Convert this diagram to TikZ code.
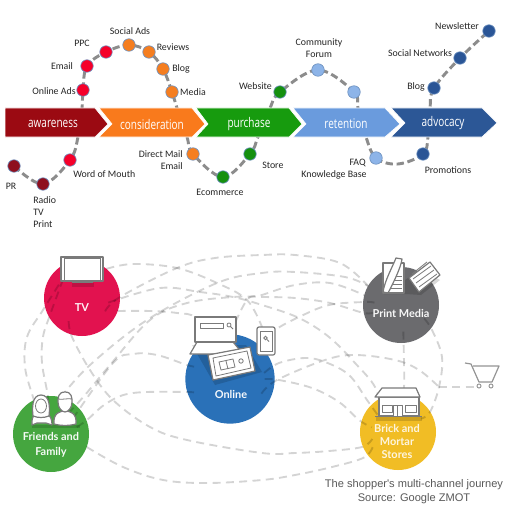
\documentclass[tikz,border=0pt]{standalone}
\usepackage{fontspec}
\setmainfont{Carlito}
\newfontfamily\bandfont{Open Sans}
\newfontfamily\roundfont{Lato}
\newfontfamily\capfont{Liberation Sans}
\usetikzlibrary{backgrounds,calc}
\definecolor{cAw}{HTML}{9B0A12}\definecolor{cCo}{HTML}{F97A1C}\definecolor{cPu}{HTML}{179B0E}
\definecolor{cRe}{HTML}{6A9BDD}\definecolor{cAd}{HTML}{2C5796}
\definecolor{dDk}{HTML}{8E0F1E}\definecolor{dRd}{HTML}{F5002A}\definecolor{dOr}{HTML}{F57E20}
\definecolor{dGr}{HTML}{15900F}\definecolor{dLb}{HTML}{8DB4E8}\definecolor{dNv}{HTML}{2A5596}
\definecolor{cTV}{HTML}{E2124F}\definecolor{cFr}{HTML}{45A63F}\definecolor{cOn}{HTML}{2A71B8}
\definecolor{cPr}{HTML}{6B6B6E}\definecolor{cBr}{HTML}{F1BD25}
\definecolor{icon}{HTML}{7A7A7A}
\newcommand{\bandtext}[1]{\scalebox{.75}[1]{#1}}
\tikzset{
 dotn/.style={circle,draw=cRe!70!gray,line width=.5pt,minimum size=12.5pt*.75,inner sep=0pt,outer sep=0pt,fill=#1},
 lab/.style={font=\fontsize{7.4}{8}\selectfont,text=black!85,inner sep=0pt},
 band/.style={draw=white,line width=.5pt,fill=#1},
 bandtxt/.style={font=\bandfont\fontsize{10}{12}\selectfont,text=white,inner sep=0pt},
 journey/.style={draw=black!45,line width=2.2pt,dash pattern=on 5.5pt off 2.8pt},
 chan/.style={circle,minimum size=57pt,inner sep=0pt,outer sep=0pt,fill=#1},
 inner/.style={circle,minimum size=40pt,inner sep=0pt,outer sep=0pt},
 rt/.style={draw=black,opacity=.17,line width=1.4pt,dash pattern=on 6pt off 4pt},
 chantxt/.style={font=\roundfont\bfseries\fontsize{8.2}{10}\selectfont,text=white,inner sep=0pt,opacity=.95},
 ico/.style={draw=icon,line width=.9pt,fill=white,line join=round},
 icl/.style={draw=icon,line width=.6pt},
 capt/.style={font=\capfont\fontsize{8.3}{10}\selectfont,text=black!65,inner sep=0pt}
}
\begin{document}
\begin{tikzpicture}[x=.75pt,y=-.75pt]
\useasboundingbox (0,0) rectangle (525,517);
% ---- bands
\path[band=cAw] (5,108) -- (95,108) -- (108,124) -- (95,137) -- (5,137) -- cycle;
\path[band=cCo] (99,108) -- (192,108) -- (205,124) -- (192,137) -- (99,137) -- (112,124) -- cycle;
\path[band=cPu] (196,108) -- (289,108) -- (302,124) -- (289,137) -- (196,137) -- (208,124) -- cycle;
\path[band=cRe] (293,108) -- (385,108) -- (400,124) -- (385,137) -- (293,137) -- (306,124) -- cycle;
\path[band=cAd] (391,108) -- (482,108) -- (497,123) -- (482,137) -- (391,137) -- (405,123) -- cycle;
\node[bandtxt] (tAw) at (53,124) {\bandtext{awareness}};
\node[bandtxt] (tCo) at (152,124) {\bandtext{consideration}};
\node[bandtxt] (tPu) at (249,124) {\bandtext{purchase}};
\node[bandtxt] (tRe) at (346,124) {\bandtext{retention}};
\node[bandtxt] (tAd) at (443,123) {\bandtext{advocacy}};
% ---- dots
\node[dotn=dDk] (d1) at (14,166) {};
\node[dotn=dDk] (d2) at (43,184) {};
\node[dotn=dRd] (d3) at (70,160) {};
\node[dotn=dRd] (d4) at (83,90) {};
\node[dotn=dRd] (d5) at (87,66) {};
\node[dotn=dRd] (d6) at (106,52) {};
\node[dotn=dOr] (d7) at (129,45) {};
\node[dotn=dOr] (d8) at (149,52) {};
\node[dotn=dOr] (d9) at (163,69) {};
\node[dotn=dOr] (d10) at (172,92) {};
\node[dotn=dOr] (d11) at (193,154) {};
\node[dotn=dGr] (d12) at (223,177) {};
\node[dotn=dGr] (d13) at (250,154) {};
\node[dotn=dGr] (d14) at (280,92) {};
\node[dotn=dLb] (d15) at (318,70) {};
\node[dotn=dLb] (d16) at (354,92) {};
\node[dotn=dLb] (d17) at (376,158) {};
\node[dotn=dNv] (d18) at (423,154) {};
\node[dotn=dNv] (d19) at (434,88) {};
\node[dotn=dNv] (d20) at (460,58) {};
\node[dotn=dNv] (d21) at (489,31) {};
\begin{pgfonlayer}{background}
\fill[white] (0,0) rectangle (525,517);
\draw[journey] plot[smooth,tension=.6] coordinates {(d1) (d2) (d3) (78,137) (82,108) (d4) (d5) (d6) (d7) (d8) (d9) (d10) (177,108) (187,137) (d11) (d12) (d13) (258,137) (270,108) (d14) (d15) (d16) (358,108) (366,137) (d17) (398,164) (d18) (428,137) (430,108) (d19) (d20) (d21)};
\end{pgfonlayer}
% ---- top labels
\node[lab] (l1) at (11,186) {PR};
\node[lab,anchor=west] (l2) at (33,200) {Radio};
\node[lab,anchor=west] (l3) at (33,212) {TV};
\node[lab,anchor=west] (l4) at (33,224) {Print};
\node[lab,anchor=west] (l5) at (73,174) {Word of Mouth};
\node[lab] (l6) at (54,91) {Online Ads};
\node[lab] (l7) at (62,66) {Email};
\node[lab] (l8) at (82,43) {PPC};
\node[lab] (l9) at (130,31) {Social Ads};
\node[lab] (l10) at (173,47) {Reviews};
\node[lab] (l11) at (181,69) {Blog};
\node[lab] (l12) at (193,92) {Media};
\node[lab,anchor=east] (l13) at (183,154) {Direct Mail};
\node[lab,anchor=east] (l14) at (183,166) {Email};
\node[lab] (l15) at (220,192) {Ecommerce};
\node[lab,anchor=west] (l16) at (262,165) {Store};
\node[lab,anchor=east] (l17) at (272,86) {Website};
\node[lab] (l18) at (319,43) {Community};
\node[lab] (l19) at (319,54) {Forum};
\node[lab,anchor=east] (l20) at (366,163) {FAQ};
\node[lab] (l21) at (334,175) {Knowledge Base};
\node[lab] (l22) at (448,170) {Promotions};
\node[lab] (l23) at (416,87) {Blog};
\node[lab] (l24) at (420,53) {Social Networks};
\node[lab] (l25) at (457,26) {Newsletter};
% ---- channel circles
\node[chan=cTV] (tv) at (82,298) {};
\node[chan=cFr] (fr) at (51,434) {};
\node[chan=cOn,minimum size=67pt] (on) at (230,379) {};
\node[chan=cPr] (pr) at (401,305) {};
\node[chan=cBr] (br) at (398,432) {};
\node[inner] (tvi) at (82,298) {};
\node[inner] (fri) at (51,434) {};
\node[inner,minimum size=52pt] (oni) at (230,379) {};
\node[inner] (pri) at (401,305) {};
\node[inner] (bri) at (398,432) {};
\coordinate (cartj) at (439,387);
% ---- dashed routes
\draw[rt] plot[smooth,tension=.6] coordinates {(tv.50) (133,264) (177,268) (217,283) (247,300) (262,327)};
\draw[rt] plot[smooth,tension=.6] coordinates {(tvi.330) (120,297) (177,268) (215,258) (262,255) (295,255) (340,263) (pr.150)};
\draw[rt] plot[smooth,tension=.6] coordinates {(fr.75) (90,365) (147,320) (217,283) (262,273) (295,272) (345,277) (pr.150)};
\draw[rt] plot[smooth,tension=.6] coordinates {(tvi.350) (160,288) (200,292) (233,297) (262,305) (299,318) (329,337) (355,363) (375,387) (bri.130)};
\draw[rt] plot[smooth,tension=.6] coordinates {(fri.50) (85,395) (110,365) (150,320) (187,303) (233,297) (262,297) (295,298) (330,303) (364,313) (pri.195)};
\draw[rt] plot[smooth,tension=.6] coordinates {(on.90) (247,300) (262,295) (295,285) (330,283) (pr.165)};
\draw[rt] plot[smooth,tension=.6] coordinates {(tv.340) (150,311) (177,313) (195,318) (on.130)};
\draw[rt] plot[smooth,tension=.6] coordinates {(tvi.150) (43,310) (27,337) (25,367) (33,397) (fri.120)};
\draw[rt] plot[smooth,tension=.6] coordinates {(tvi.135) (50,315) (43,337) (42,363) (48,397) (fri.100)};
\draw[rt] plot[smooth,tension=.6] coordinates {(tvi.240) (72,337) (90,370) (113,400) (150,427) (187,440) (262,453) (295,453) (329,451) (362,447) (bri.195)};
\draw[rt] plot[smooth,tension=.6] coordinates {(fr.340) (123,467) (163,480) (207,483) (262,480) (295,475) (332,467) (365,457) (bri.205)};
\draw[rt] plot[smooth,tension=.6] coordinates {(fri.15) (87,420) (107,403) (133,393) (187,392) (oni.205)};
\draw[rt] plot[smooth,tension=.6] coordinates {(fri.35) (113,363) (133,354) (157,355) (187,365) (oni.160)};
\draw[rt] plot[smooth,tension=.6] coordinates {(on.50) (275,330) (299,317) (329,305) (365,302) (pri.175)};
\draw[rt] plot[smooth,tension=.6] coordinates {(oni.335) (277,380) (325,360) (355,355) (395,360) (419,370) (cartj)};
\draw[rt] plot[smooth,tension=.6] coordinates {(oni.10) (279,363) (305,358) (325,362) (349,375) (367,400) (bri.140)};
\draw[rt] plot[smooth,tension=.6] coordinates {(oni.0) (279,380) (312,388) (339,402) (359,420) (bri.170)};
\draw[rt] plot[smooth,tension=.6] coordinates {(pri.275) (404,363) (404,387) (bri.85)};
\draw[rt] plot[smooth,tension=.6] coordinates {(pri.330) (432,330) (442,357) (cartj) (430,412) (bri.30)};
\draw[rt] (cartj) -- (475,387);
% ---- TV icon
\fill[black,opacity=.15] (72,283) rectangle (94,287);
\draw[ico] (61,257) rectangle (103,281);
\draw[icl] (64,258) rectangle (100,280);
\fill[icon] (72,281) rectangle (93,283);
% ---- laptop
\fill[black,opacity=.15] (192,345) -- (246,345) -- (262,372) -- (215,385) -- cycle;
\draw[ico] (190,354) -- (197,342) -- (233,342) -- (243,354) -- cycle;
\draw[ico] (195,317) rectangle (236,342);
\draw[ico,line width=.6pt] (200,323) rectangle (223,328);
\draw[icl] (229,325) circle (2) (230.5,326.5) -- (233,329);
% ---- tablet
\draw[ico] (208,355) -- (250,347) -- (255,371) -- (213,380) -- cycle;
\draw[icl] (213,358) -- (247,351) -- (251,368) -- (216,376) -- cycle;
\draw[icl] (219,362) -- (233,359) -- (235,367) -- (221,370) -- cycle;
\draw[icl] (226,361) -- (228,369);
\draw[icl] (241,361) circle (2.2);
% ---- phone
\draw[ico,rounded corners=1.5pt] (257,327) rectangle (275,355);
\draw[icl] (260,331) rectangle (272,351);
\draw[icl] (265.5,338) circle (1.8) (267,339.5) -- (269,341.5);
% ---- people
\fill[black,opacity=.15] (32,425) rectangle (80,428);
\draw[ico] (32,425) .. controls (31,414) and (37,413) .. (41,413) .. controls (46,413) and (52,414) .. (52,425) -- (46,423) -- (37,423) -- cycle;
\draw[ico] (41,395) .. controls (32,395) and (32,408) .. (33,416) .. controls (38,418) and (44,418) .. (49,416) .. controls (50,408) and (50,395) .. (41,395) -- cycle;
\draw[icl,fill=white] (41,406) ellipse (5.5 and 7);
\draw[ico] (54,424) .. controls (53,413) and (60,411) .. (65,411) .. controls (70,411) and (77,413) .. (76,424) .. controls (68,426) and (62,426) .. (54,424) -- cycle;
\draw[ico] (65,392) .. controls (58,392) and (58,398) .. (58,402) .. controls (58,408) and (62,412) .. (65,412) .. controls (68,412) and (72,408) .. (72,402) .. controls (72,398) and (72,392) .. (65,392) -- cycle;
\draw[icl] (58,399) .. controls (62,400) and (68,398) .. (72,399);
% ---- print media
\fill[black,opacity=.15] (384,294) -- (406,294) -- (421,295) -- (440,280) -- (420,270) -- cycle;
\draw[ico] (383,263) rectangle (404,293);
\draw[icl] (391,276) -- (402,276) (391,280) -- (402,280) (391,284) -- (402,284) (391,288) -- (402,288);
\draw[ico] (383,292) .. controls (385,280) and (392,268) .. (396,258) -- (402,259) .. controls (401,266) and (396,278) .. (388,293) -- cycle;
\draw[ico] (409,278) -- (430,262) -- (440,275) -- (419,292) -- cycle;
\draw[icl] (413,279) -- (431,266) (416,283) -- (434,270) (419,287) -- (437,274);
\draw[icl] (412,274) -- (427,262);
% ---- store
\fill[black,opacity=.15] (376,417) rectangle (422,421);
\draw[ico] (379,397) rectangle (419,416);
\draw[ico] (382,388) -- (416,388) -- (420,397) -- (375,397) -- cycle;
\draw[ico,line width=.6pt] (382,405) rectangle (392,412);
\draw[ico,line width=.6pt] (393,405) rectangle (402,416);
\draw[icl] (397.5,405) -- (397.5,416);
\draw[ico,line width=.6pt] (405,405) rectangle (416,412);
\draw[icon,line width=1pt] (375,416.5) -- (422,416.5);
% ---- cart
\draw[icon!80,line width=.9pt,line join=round] (465,363) -- (471,364) -- (479,382) -- (492,382) -- (499,366) -- (473,366);
\draw[icon!80,line width=.7pt,fill=white] (479,386) circle (2) (491,386) circle (2);
% ---- circle labels
\node[chantxt] (tTV) at (82,308) {TV};
\node[chantxt] (tOn) at (231,394) {Online};
\node[chantxt] (tPr) at (401,313) {Print Media};
\node[chantxt] (tF1) at (51,436) {Friends and};
\node[chantxt] (tF2) at (51,452) {Family};
\node[chantxt,text=white!90!cBr] (tB1) at (397,428) {Brick and};
\node[chantxt,text=white!90!cBr] (tB2) at (397,442) {Mortar};
\node[chantxt,text=white!90!cBr] (tB3) at (397,455) {Stores};
\node[capt] (c1) at (414,485) {The shopper's multi-channel journey};
\node[capt] (c2) at (414,499) {Source: Google ZMOT};
\end{tikzpicture}
\end{document}
